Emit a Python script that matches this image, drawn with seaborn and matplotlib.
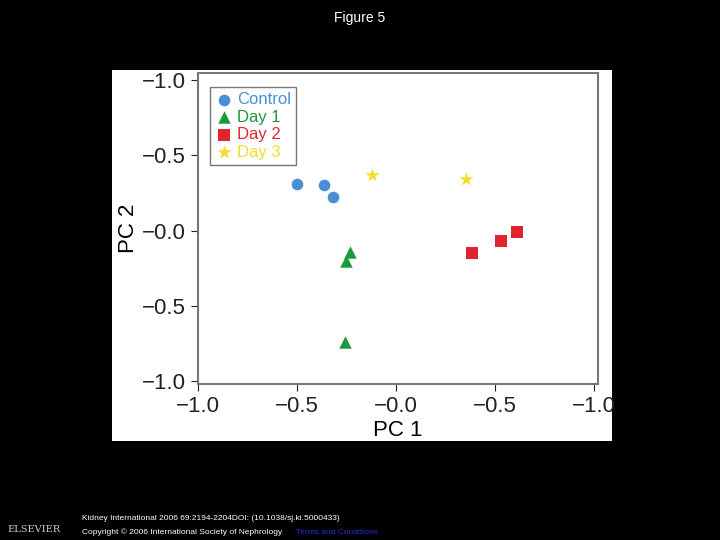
import matplotlib
matplotlib.use("Agg")
import matplotlib.pyplot as plt
import seaborn as sns
import pandas as pd
from matplotlib.patches import Rectangle

groups = ["Control", "Day 1", "Day 2", "Day 3"]
pc1 = {"Control": [-0.5, -0.365, -0.32], "Day 1": [-0.23, -0.255, -0.26],
       "Day 2": [0.385, 0.53, 0.61], "Day 3": [-0.12, 0.355]}
pc2 = {"Control": [0.31, 0.305, 0.22], "Day 1": [-0.14, -0.2, -0.74],
       "Day 2": [-0.15, -0.07, -0.01], "Day 3": [0.37, 0.34]}
xticks = [-1.0, -0.5, 0.0, 0.5, 1.0]
xlabels = ["−1.0", "−0.5", "−0.0", "−0.5", "−1.0"]
yticks = [1.0, 0.5, 0.0, -0.5, -1.0]
ylabels = ["−1.0", "−0.5", "−0.0", "−0.5", "−1.0"]

rows = [(g, x, y) for g in groups for x, y in zip(pc1[g], pc2[g])]
df = pd.DataFrame(rows, columns=["group", "PC1", "PC2"])

plt.rcParams['font.family'] = ['Liberation Sans', 'DejaVu Sans']

colors = {"Control": "#4a8fd6", "Day 1": "#1a9a3a", "Day 2": "#e0242e", "Day 3": "#f5dc2a"}
markers = {"Control": "o", "Day 1": "^", "Day 2": "s", "Day 3": "*"}
sizes = {"Control": 70, "Day 1": 80, "Day 2": 70, "Day 3": 110}

fig = plt.figure(figsize=(7.2, 5.4), dpi=100, facecolor="black")
fig.patches.append(Rectangle((112/720, 1-441/540), 500/720, 371/540,
                             transform=fig.transFigure, facecolor="white", zorder=-5))
ax = fig.add_axes([198/720, 1-384/540, 400/720, 311.5/540])
ax.set_zorder(2)
ax.set_facecolor("white")
for g in groups:
    sub = df[df.group == g]
    sns.scatterplot(data=sub, x="PC1", y="PC2", ax=ax, color=colors[g],
                    marker=markers[g], s=sizes[g], linewidth=0, label=g)
ax.set_xlim(-1.0, 1.02)
ax.set_ylim(-1.02, 1.05)
ax.set_xticks(xticks, xlabels)
ax.set_yticks(yticks, ylabels)
ax.tick_params(labelsize=16, colors="#222222", length=5)
for s in ax.spines.values():
    s.set_color("#777777"); s.set_linewidth(1.5)
ax.set_xlabel("PC 1", fontsize=16, labelpad=2)
ax.set_ylabel("PC 2", fontsize=16, labelpad=2)
leg = ax.legend(loc="upper left", fontsize=12, frameon=True, fancybox=False,
                edgecolor="#555555", handletextpad=0.3, borderpad=0.3,
                labelspacing=0.15, handlelength=1.0, bbox_to_anchor=(0.01, 0.98))
for t, g in zip(leg.get_texts(), groups):
    t.set_color(colors[g])

fig.text(0.5, 1-18/540, "Figure 5", color="white", ha="center", va="center", fontsize=10)
fig.text(82/720, 1-518/540, "Kidney International 2006 69:2194-2204DOI: (10.1038/sj.ki.5000433)",
         color="white", fontsize=6, va="center")
fig.text(82/720, 1-532/540, "Copyright © 2006 International Society of Nephrology", color="white",
         fontsize=6, va="center")
fig.text(296/720, 1-532/540, "Terms and Conditions", color="#2233cc", fontsize=6, va="center")
fig.text(34/720, 1-530/540, "ELSEVIER", color="#cccccc", fontsize=7, ha="center", va="center",
         family="serif")
fig.savefig("out.png", dpi=100, facecolor="black")
